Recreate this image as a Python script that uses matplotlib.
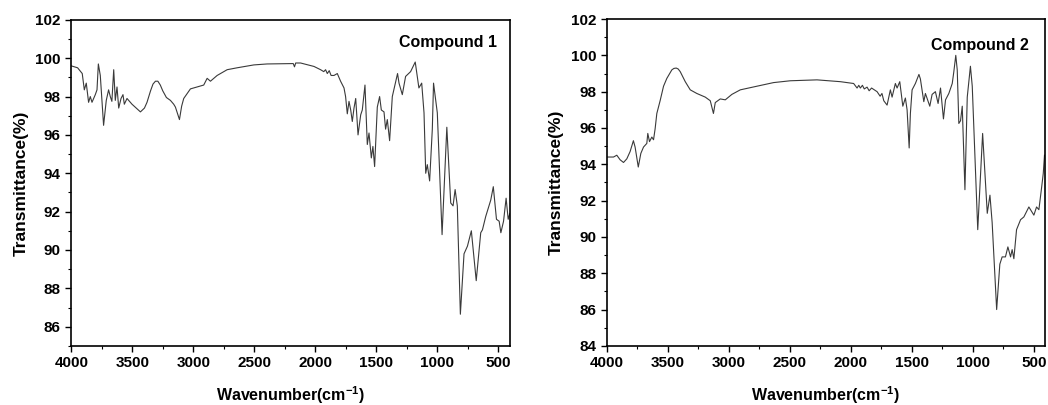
import numpy as np
import matplotlib
matplotlib.use('Agg')
import matplotlib.pyplot as plt
from matplotlib.ticker import MultipleLocator

# IR spectra (wavenumber in cm-1, transmittance in %)
wn1 = [4000, 3948, 3910, 3893, 3877, 3858, 3844, 3830, 3803, 3789, 3778, 3762, 3735,
       3713, 3694, 3680, 3667, 3652, 3639, 3625, 3611, 3592, 3576, 3565, 3543, 3502,
       3433, 3400, 3379, 3350, 3330, 3310, 3290, 3270, 3250, 3220, 3187, 3160, 3146,
       3113, 3095, 3078, 3023, 2968, 2914, 2886,
       2859, 2804, 2722, 2640, 2503, 2394, 2180, 2170, 2160, 2120, 2010, 1956, 1930,
       1915, 1901, 1885, 1870, 1846, 1819, 1792, 1764, 1751, 1737, 1723, 1709, 1696,
       1682, 1668, 1649, 1627, 1614, 1592, 1573, 1559, 1540, 1527, 1513, 1491, 1472,
       1458, 1436, 1423, 1409, 1390, 1368, 1325, 1313, 1286, 1259, 1218, 1180, 1150,
       1127, 1108, 1094, 1081, 1062, 1040, 1030, 999, 960, 921, 889, 870, 853, 835,
       810, 780, 752, 720, 680, 643, 629, 602, 561, 540, 514, 492, 478, 456, 435,
       418, 405]
tr1 = [99.6, 99.5, 99.2, 98.35, 98.7, 97.7, 98.0, 97.7, 98.1, 98.35, 99.7, 99.1, 96.5,
       97.8, 98.35, 98.0, 97.75, 99.4, 97.8, 98.5, 97.4, 97.9, 98.1, 97.6, 97.9, 97.6,
       97.2, 97.4, 97.7, 98.3, 98.65, 98.8, 98.8, 98.6, 98.3, 97.95, 97.8, 97.6, 97.45,
       96.8, 97.5, 97.9, 98.4, 98.5, 98.6, 98.95,
       98.8, 99.1, 99.4, 99.5, 99.65, 99.7, 99.72, 99.55, 99.75, 99.75, 99.57, 99.4, 99.3,
       99.4, 99.2, 99.35, 99.1, 99.1, 99.2, 98.8, 98.45, 98.0, 97.1, 97.75, 97.3, 96.7,
       97.4, 97.9, 96.0, 97.05, 97.3, 98.6, 95.5, 96.1, 94.8, 95.4, 94.35, 97.45, 98.0,
       97.3, 97.2, 96.3, 96.8, 95.7, 98.0, 99.2, 98.7, 98.1, 99.05, 99.3, 99.8, 98.45,
       98.7, 97.15, 94.0, 94.45, 93.6, 96.3, 98.7, 97.15, 90.8, 96.4, 92.45, 92.3, 93.15, 92.3,
       86.65, 89.8, 90.2, 91.0, 88.4, 90.9, 91.05, 91.75, 92.6, 93.3, 91.6, 91.5, 90.9, 91.5, 92.7,
       91.6, 91.9]

wn2 = [4000, 3945, 3918, 3891, 3863, 3836, 3809, 3782, 3768, 3742, 3721, 3699, 3672,
       3664, 3650, 3631, 3617, 3604, 3590, 3563, 3535, 3508, 3467, 3450, 3431, 3415, 3398, 3357,
       3316, 3262, 3193, 3152, 3126, 3111, 3070, 3029, 2975, 2906, 2770, 2633, 2496,
       2277, 2086, 1977, 1949, 1935, 1922, 1905, 1890, 1867, 1850, 1830, 1785, 1760,
       1745, 1730, 1703, 1676, 1662, 1635, 1621, 1599, 1574, 1553, 1539, 1522, 1512,
       1498, 1471, 1442, 1430, 1402, 1389, 1353, 1334, 1307, 1285, 1265, 1241, 1224,
       1197, 1169, 1156, 1140, 1128, 1115, 1101, 1087, 1065, 1046, 1020, 1005, 960,
       920, 882, 860, 842, 805, 779, 760, 733, 713, 691, 678, 664, 642, 609, 582, 541,
       500, 478, 459, 437, 423, 413]
tr2 = [94.4, 94.4, 94.5, 94.25, 94.1, 94.3, 94.7, 95.3, 94.95, 93.85, 94.6, 94.95, 95.15,
       95.7, 95.25, 95.5, 95.35, 95.95, 96.8, 97.5, 98.3, 98.73, 99.2, 99.28, 99.3, 99.25, 99.1, 98.55,
       98.1, 97.9, 97.7, 97.5, 96.8, 97.4, 97.6, 97.55, 97.85, 98.1, 98.3, 98.5, 98.6,
       98.65, 98.55, 98.45, 98.2, 98.35, 98.2, 98.35, 98.15, 98.25, 98.05, 98.2, 98.0, 97.75,
       97.9, 97.5, 97.26, 98.1, 97.7, 98.45, 98.2, 98.55, 97.2, 97.65, 97.0, 94.9, 96.8,
       98.1, 98.45, 98.95, 98.7, 97.45, 97.9, 97.2, 97.85, 98.0, 97.35, 98.2, 96.5, 97.55,
       97.9, 98.45, 99.1, 100.0, 99.2, 96.25, 96.4, 97.2, 92.6, 97.7, 99.4, 98.3, 90.4,
       95.7, 91.3, 92.3, 90.8, 86.0, 88.5, 88.9, 88.9, 89.45, 88.9, 89.3, 88.8, 90.4, 90.95,
       91.1, 91.65, 91.2, 91.65, 91.5, 92.7, 93.5, 94.5]

labels = ['Compound 1', 'Compound 2']

plt.rcParams['font.family'] = ['Liberation Sans', 'DejaVu Sans']
plt.rcParams['font.weight'] = 'bold'
plt.rcParams['mathtext.fontset'] = 'custom'
plt.rcParams['mathtext.rm'] = 'Liberation Sans:bold'
plt.rcParams['mathtext.bf'] = 'Liberation Sans:bold'

fig = plt.figure(figsize=(10.48, 4.05), dpi=100)
ax1 = fig.add_axes([0.068, 0.146, 0.419, 0.805])
ax2 = fig.add_axes([0.579, 0.146, 0.418, 0.807])

panels = [(ax1, wn1, tr1, (85, 102), 400, (0.857, 0.93)),
          (ax2, wn2, tr2, (84, 102), 410, (0.852, 0.92))]

for (ax, x, y, ylim, xmin, txtpos), lab in zip(panels, labels):
    ax.plot(x, y, color='#3a3a3a', lw=0.8)
    ax.set_xlim(4000, xmin)
    ax.set_ylim(*ylim)
    ax.xaxis.set_major_locator(MultipleLocator(500))
    ax.xaxis.set_minor_locator(MultipleLocator(250))
    ax.yaxis.set_major_locator(MultipleLocator(2))
    ax.yaxis.set_minor_locator(MultipleLocator(1))
    ax.tick_params(which='major', direction='out', length=4, width=1, labelsize=11)
    ax.tick_params(which='minor', direction='out', length=2.5, width=0.8)
    for s in ax.spines.values():
        s.set_linewidth(1.2)
    ax.set_xlabel('Wavenumber(cm$^{\\mathbf{-1}}$)', fontsize=11.5, fontweight='bold', labelpad=10)
    ax.set_ylabel('Transmittance(%)', fontsize=12.5, fontweight='bold', labelpad=5)
    ax.text(txtpos[0], txtpos[1], lab, transform=ax.transAxes, ha='center', va='center',
            fontsize=11.5, fontweight='bold')

fig.savefig('out.png', dpi=100)
